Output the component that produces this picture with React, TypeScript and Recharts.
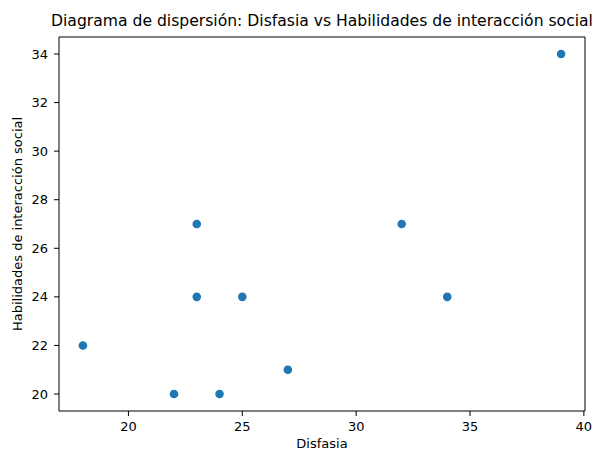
import React from "react";
import { ScatterChart, Scatter, XAxis, YAxis, ReferenceLine } from "recharts";

const disfasia = [18, 22, 23, 23, 24, 25, 27, 32, 34, 39];
const habilidades = [22, 20, 27, 24, 20, 24, 21, 27, 24, 34];
const xTicks = [20, 25, 30, 35, 40];
const yTicks = [20, 22, 24, 26, 28, 30, 32, 34];

const data = disfasia.map((x, i) => ({ x, y: habilidades[i] }));

const FONT = "'DejaVu Sans', sans-serif";
const W = 603;
const H = 449;
const PLOT_LEFT = 59;
const PLOT_RIGHT = 585;
const PLOT_TOP = 37;
const PLOT_BOTTOM = 411;

const Dot = (props: any) => {
  const { cx, cy } = props;
  return <circle cx={cx} cy={cy} r={4.3} fill="#1f77b4" />;
};

export default function App() {
  return (
    <div style={{ position: "absolute", left: 0, top: 0, width: W, height: H, background: "#fff", fontFamily: FONT }}>
      <div
        style={{
          position: "absolute",
          left: PLOT_LEFT - 100,
          width: PLOT_RIGHT - PLOT_LEFT + 200,
          top: 12,
          textAlign: "center",
          fontSize: 15.6,
          lineHeight: "normal",
          whiteSpace: "nowrap",
          color: "#000",
        }}
      >
        Diagrama de dispersión: Disfasia vs Habilidades de interacción social
      </div>
      <ScatterChart
        width={W}
        height={H}
        margin={{ top: PLOT_TOP, right: W - PLOT_RIGHT, bottom: 0, left: 0 }}
      >
        <XAxis
          type="number"
          dataKey="x"
          domain={[16.95, 40.05]}
          ticks={xTicks}
          allowDataOverflow
          height={H - PLOT_BOTTOM}
          stroke="#000"
          tickSize={5}
          tickMargin={6}
          tick={{ fill: "#000", fontSize: 13, fontFamily: FONT }}
          label={{ value: "Disfasia", position: "insideBottom", offset: 1, fill: "#000", fontSize: 13, fontFamily: FONT }}
        />
        <YAxis
          type="number"
          dataKey="y"
          domain={[19.3, 34.7]}
          ticks={yTicks}
          allowDataOverflow
          width={PLOT_LEFT}
          stroke="#000"
          tickSize={5}
          tickMargin={6}
          tick={{ fill: "#000", fontSize: 13, fontFamily: FONT }}
          label={{
            value: "Habilidades de interacción social",
            angle: -90,
            position: "insideLeft",
            offset: 17,
            style: { textAnchor: "middle" },
            fill: "#000",
            fontSize: 13,
            fontFamily: FONT,
          }}
        />
        <ReferenceLine y={34.7} stroke="#000" ifOverflow="visible" />
        <ReferenceLine x={40.05} stroke="#000" ifOverflow="visible" />
        <Scatter data={data} shape={<Dot />} isAnimationActive={false} />
      </ScatterChart>
    </div>
  );
}
